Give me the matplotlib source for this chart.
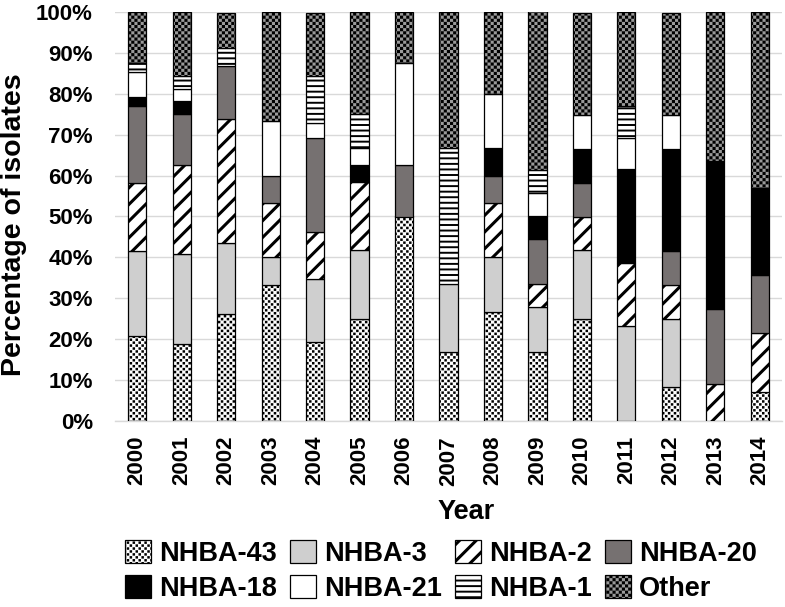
import numpy as np
import matplotlib
matplotlib.use("Agg")
import matplotlib.pyplot as plt
import matplotlib.hatch as mhatch
from matplotlib.path import Path

years = ["2000", "2001", "2002", "2003", "2004", "2005", "2006", "2007",
         "2008", "2009", "2010", "2011", "2012", "2013", "2014"]
series_names = ["NHBA-43", "NHBA-3", "NHBA-2", "NHBA-20",
                "NHBA-18", "NHBA-21", "NHBA-1", "Other"]
nhba43 = [20.8, 18.8, 26.1, 33.3, 19.2, 25.0, 50.0, 16.7, 26.7, 16.7, 25.0, 0, 8.3, 0, 7.1]
nhba3 = [20.8, 21.9, 17.4, 6.7, 15.4, 16.7, 0, 16.7, 13.3, 11.1, 16.7, 23.1, 16.7, 0, 0]
nhba2 = [16.7, 21.9, 30.4, 13.3, 11.5, 16.7, 0, 0, 13.3, 5.6, 8.3, 15.4, 8.3, 9.1, 14.3]
nhba20 = [18.8, 12.5, 13.0, 6.7, 23.1, 0, 12.5, 0, 6.7, 11.1, 8.3, 0, 8.3, 18.2, 14.3]
nhba18 = [2.1, 3.1, 0, 0, 0, 4.2, 0, 0, 6.7, 5.6, 8.3, 23.1, 25.0, 36.4, 21.4]
nhba21 = [6.3, 3.1, 0, 13.3, 3.8, 4.2, 25.0, 0, 13.3, 5.6, 8.3, 7.7, 8.3, 0, 0]
nhba1 = [2.1, 3.1, 4.3, 0, 11.5, 8.3, 0, 33.3, 0, 5.6, 0, 7.7, 0, 0, 0]
other = [12.5, 15.6, 8.7, 26.7, 15.4, 25.0, 12.5, 33.3, 20.0, 38.9, 25.0, 23.1, 25.0, 36.4, 42.9]
yticks = [0, 10, 20, 30, 40, 50, 60, 70, 80, 90, 100]


# ---- custom square-based hatch patterns (checkerboard & dots) ----
class _SquareHatch(mhatch.HatchPatternBase):
    key = "O"
    cells = 34
    frac = 1.0

    def __init__(self, hatch, density):
        if self.key in hatch:
            n = self.cells
            self.squares = [(i, j) for i in range(n) for j in range(n)
                            if (i + j) % 2 == 0]
            self.num_vertices = len(self.squares) * 5
        else:
            self.squares = []
            self.num_vertices = 0

    def set_vertices_and_codes(self, vertices, codes):
        c = 1.0 / self.cells
        s = c * self.frac
        off = (c - s) / 2
        k = 0
        for i, j in self.squares:
            x0 = i * c + off
            y0 = j * c + off
            vertices[k:k + 5] = [(x0, y0), (x0 + s, y0), (x0 + s, y0 + s),
                                 (x0, y0 + s), (x0, y0)]
            codes[k:k + 5] = [Path.MOVETO, Path.LINETO, Path.LINETO,
                              Path.LINETO, Path.CLOSEPOLY]
            k += 5


class _Checker(_SquareHatch):
    key = "O"
    cells = 32
    frac = 1.0


class _Dots(_SquareHatch):
    key = "o"
    cells = 34
    frac = 0.85


mhatch._hatch_types = [t for t in mhatch._hatch_types
                       if t not in (mhatch.SmallCircles, mhatch.LargeCircles)]
mhatch._hatch_types += [_Checker, _Dots]

FONT = "Liberation Sans"
plt.rcParams["font.family"] = [FONT, "DejaVu Sans"]
plt.rcParams["font.weight"] = "bold"

styles = [
    dict(fc="white", hatch="o", hlw=0.0),
    dict(fc="#cfcfcf", hatch=None, hlw=0.0),
    dict(fc="white", hatch="//", hlw=2.2),
    dict(fc="#767171", hatch=None, hlw=0.0),
    dict(fc="black", hatch=None, hlw=0.0),
    dict(fc="white", hatch=None, hlw=0.0),
    dict(fc="white", hatch="---", hlw=1.4),
    dict(fc="#9a9a9a", hatch="O", hlw=0.0),
]

fig = plt.figure(figsize=(7.85, 6.07), dpi=100)
ax = fig.add_axes([115 / 785, 1 - 420.7 / 607, 667 / 785, 408.4 / 607])

data = [np.array(v, dtype=float) for v in
        (nhba43, nhba3, nhba2, nhba20, nhba18, nhba21, nhba1, other)]
x = np.arange(len(years))
bottom = np.zeros(len(years))
handles = []
for name, vals, st in zip(series_names, data, styles):
    mask = vals > 0
    with plt.rc_context({"hatch.linewidth": st["hlw"]}):
        bc = ax.bar(x[mask], vals[mask], bottom=bottom[mask], width=0.41,
                    color=st["fc"], edgecolor="black", linewidth=0.9,
                    hatch=st["hatch"], label=name, zorder=3)
    for p in bc.patches:
        if hasattr(p, "set_hatch_linewidth"):
            p.set_hatch_linewidth(st["hlw"])
    handles.append(bc)
    bottom = bottom + vals

ax.set_xlim(-0.5, len(years) - 0.5)
ax.set_ylim(0, 100)
ax.set_xticks(x)
ax.set_xticklabels(years, rotation=90, fontsize=16, fontweight="bold")
ax.set_yticks(yticks)
ax.set_yticklabels([f"{v}%" for v in yticks], fontsize=16, fontweight="bold")
ax.tick_params(axis="both", length=0)
ax.tick_params(axis="y", pad=16)
ax.tick_params(axis="x", pad=11)
ax.yaxis.grid(True, color="#d9d9d9", linewidth=1.0, zorder=0)
ax.set_axisbelow(True)
for s in ("top", "right", "left"):
    ax.spines[s].set_visible(False)
ax.spines["bottom"].set_color("#d9d9d9")
ax.spines["bottom"].set_linewidth(1.0)

fig.text(14 / 785, 1 - 225 / 607, "Percentage of isolates", rotation=90,
         ha="center", va="center", fontsize=20.5, fontweight="bold")
fig.text(466 / 785, 1 - 512 / 607, "Year", ha="center", va="center",
         fontsize=19.5, fontweight="bold")

# legend filled row-wise (4 per row) like the reference
ncol = 4
nrow = 2
order = [r * ncol + c for c in range(ncol) for r in range(nrow)]
leg_handles = [handles[i] for i in order]
leg_labels = [series_names[i] for i in order]
leg_styles = [styles[i] for i in order]
leg = fig.legend(handles=leg_handles, labels=leg_labels, ncol=ncol,
                 loc="center", bbox_to_anchor=(441 / 785, 1 - 571 / 607),
                 frameon=False, fontsize=19.5, handlelength=0.95,
                 handleheight=0.95, handletextpad=0.3, columnspacing=0.5,
                 labelspacing=0.3, borderpad=0.0)
for h, st in zip(leg.legend_handles, leg_styles):
    if hasattr(h, "set_hatch_linewidth"):
        h.set_hatch_linewidth(st["hlw"])

fig.savefig("out.png", dpi=100)
